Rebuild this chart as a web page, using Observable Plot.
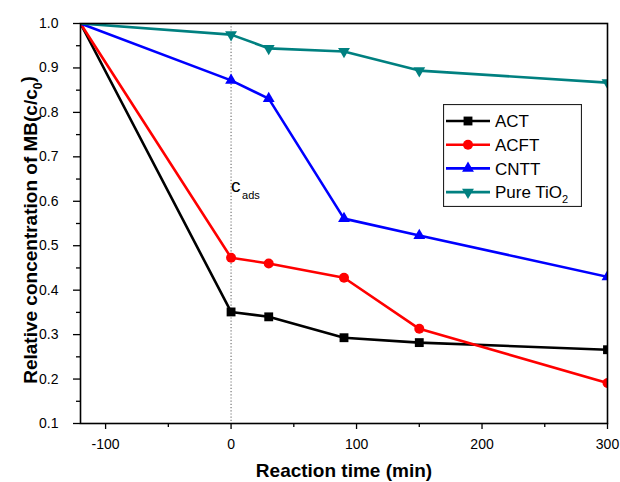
<!DOCTYPE html>
<html>
<head>
<meta charset="utf-8">
<script src="https://cdn.jsdelivr.net/npm/d3@7"></script>
<script src="https://cdn.jsdelivr.net/npm/@observablehq/plot@0.6"></script>
<style>
  html, body { margin: 0; padding: 0; background: #fff; }
  #wrap { position: relative; width: 620px; height: 482px; font-family: "Liberation Sans", Arial, sans-serif; }
  #legend { position: absolute; left: 443px; top: 104px; }
</style>
</head>
<body>
<div id="wrap"></div>
<script>
// ---- data ----
const times = [-120, 0, 30, 90, 150, 300];
const actValues  = [1.0, 0.351, 0.340, 0.293, 0.282, 0.266];
const acftValues = [1.0, 0.473, 0.460, 0.428, 0.313, 0.191];
const cnttValues = [1.0, 0.872, 0.831, 0.561, 0.523, 0.430];
const tio2Values = [1.0, 0.975, 0.944, 0.937, 0.894, 0.867];
const seriesNames = ["ACT", "ACFT", "CNTT", "Pure TiO2"];
const seriesColors = ["#000000", "#ff0000", "#0000ff", "#008080"];
const xTicks = [-100, 0, 100, 200, 300];
const xMinorTicks = [-50, 50, 150, 250];
const yTicks = [0.1, 0.2, 0.3, 0.4, 0.5, 0.6, 0.7, 0.8, 0.9, 1.0];
const yMinorTicks = [0.15, 0.25, 0.35, 0.45, 0.55, 0.65, 0.75, 0.85, 0.95];
const adsorptionTime = [0];
const annotationY = [0.635];
const xTitle = "Reaction time (min)";
const yTitleMain = "Relative concentration of MB(c/c";
const yTitleSub = "0";
const yTitleEnd = ")";

// ---- build ----
const allValues = [actValues, acftValues, cnttValues, tio2Values];
const rows = [];
allValues.forEach((vals, si) => vals.forEach((v, i) => rows.push({series: seriesNames[si], t: times[i], c: v})));

const triangleDown = {
  draw(ctx, size) {
    const y = Math.sqrt(size / (Math.sqrt(3) * 3));
    ctx.moveTo(0, 2 * y);
    ctx.lineTo(-Math.sqrt(3) * y, -y);
    ctx.lineTo(Math.sqrt(3) * y, -y);
    ctx.closePath();
  }
};
const symbols = ["square", "circle", "triangle", triangleDown];
const radii = [5, 5, 4.4, 4.4];

const marks = [
  Plot.ruleX(adsorptionTime, {stroke: "#777", strokeWidth: 1.2, strokeDasharray: "1.2,2"}),
];
seriesNames.forEach((name, si) => {
  const d = rows.filter(r => r.series === name);
  marks.push(Plot.line(d, {x: "t", y: "c", stroke: seriesColors[si], strokeWidth: 2.6, clip: true}));
  marks.push(Plot.dot(d.filter(r => r.t >= 0), {x: "t", y: "c", fill: seriesColors[si], stroke: "none", symbol: symbols[si], r: radii[si], clip: true}));
});
marks.push(
  Plot.text(adsorptionTime, {x: d => d, y: annotationY, text: () => "c", textAnchor: "start", dx: 0, fontSize: 19}),
  Plot.text(adsorptionTime, {x: d => d, y: annotationY, text: () => "ads", textAnchor: "start", dx: 11, dy: 10, fontSize: 11}),
  Plot.frame({stroke: "#000", strokeWidth: 1.6}),
  Plot.axisX(xTicks, {tickSize: 6, tickPadding: 10, tickFormat: d => String(d), fontSize: 14, strokeWidth: 1.3}),
  Plot.axisX(xMinorTicks, {tickSize: 4, text: null, strokeWidth: 1.3}),
  Plot.axisY(yTicks, {tickSize: 7, tickPadding: 15, tickFormat: d => d.toFixed(1), fontSize: 14, strokeWidth: 1.3}),
  Plot.axisY(yMinorTicks, {tickSize: 4, text: null, strokeWidth: 1.3}),
  Plot.text([xTitle], {frameAnchor: "bottom", lineAnchor: "middle", textAnchor: "middle", dy: 47, fontWeight: "bold", fontSize: 19})
);

const chart = Plot.plot({
  width: 620,
  height: 482,
  marginLeft: 80,
  marginRight: 13,
  marginTop: 23,
  marginBottom: 59,
  x: {domain: [-120, 300], label: null},
  y: {domain: [0.1, 1.0], label: null},
  style: {fontFamily: "'Liberation Sans', Arial, sans-serif", fontSize: "14px", color: "#000", background: "#fff", overflow: "visible"},
  marks
});
document.getElementById("wrap").appendChild(chart);

// ---- y title with subscript (added to the plot's svg) ----
const svg = d3.select(chart.tagName.toLowerCase() === "svg" ? chart : chart.querySelector("svg"));
const yt = svg.append("text")
  .attr("transform", `translate(30,230) rotate(-90)`)
  .attr("text-anchor", "middle")
  .attr("dy", "0.36em")
  .attr("font-weight", "bold")
  .attr("font-size", 19)
  .attr("fill", "#000");
yt.append("tspan").text(yTitleMain);
yt.append("tspan").attr("font-size", 12).attr("dy", "0.4em").text(yTitleSub);
yt.append("tspan").attr("dy", "-0.4em").text(yTitleEnd);

// ---- legend ----
const lw = 139, lh = 103;
const leg = d3.select("#wrap").append("svg").attr("id", "legend").attr("width", lw).attr("height", lh)
  .style("font-family", "'Liberation Sans', Arial, sans-serif");
leg.append("rect").attr("x", 0.5).attr("y", 0.5).attr("width", lw - 1).attr("height", lh - 1)
  .attr("fill", "#fff").attr("stroke", "#222").attr("stroke-width", 1.2);
seriesNames.forEach((name, i) => {
  const cy = 17 + i * 23.7;
  const g = leg.append("g");
  g.append("line").attr("x1", 3).attr("x2", 47).attr("y1", cy).attr("y2", cy)
    .attr("stroke", seriesColors[i]).attr("stroke-width", 2.6);
  const sym = typeof symbols[i] === "string"
    ? {square: d3.symbolSquare, circle: d3.symbolCircle, triangle: d3.symbolTriangle}[symbols[i]]
    : symbols[i];
  g.append("path").attr("transform", `translate(25,${cy})`)
    .attr("d", d3.symbol(sym, Math.PI * radii[i] * radii[i])())
    .attr("fill", seriesColors[i]);
  const t = g.append("text").attr("x", 52).attr("y", cy).attr("dy", "0.36em").attr("font-size", 17);
  if (name.endsWith("TiO2")) {
    t.append("tspan").text(name.slice(0, -1));
    t.append("tspan").attr("font-size", 11).attr("dy", "0.45em").text("2");
  } else {
    t.text(name);
  }
});
</script>
</body>
</html>
